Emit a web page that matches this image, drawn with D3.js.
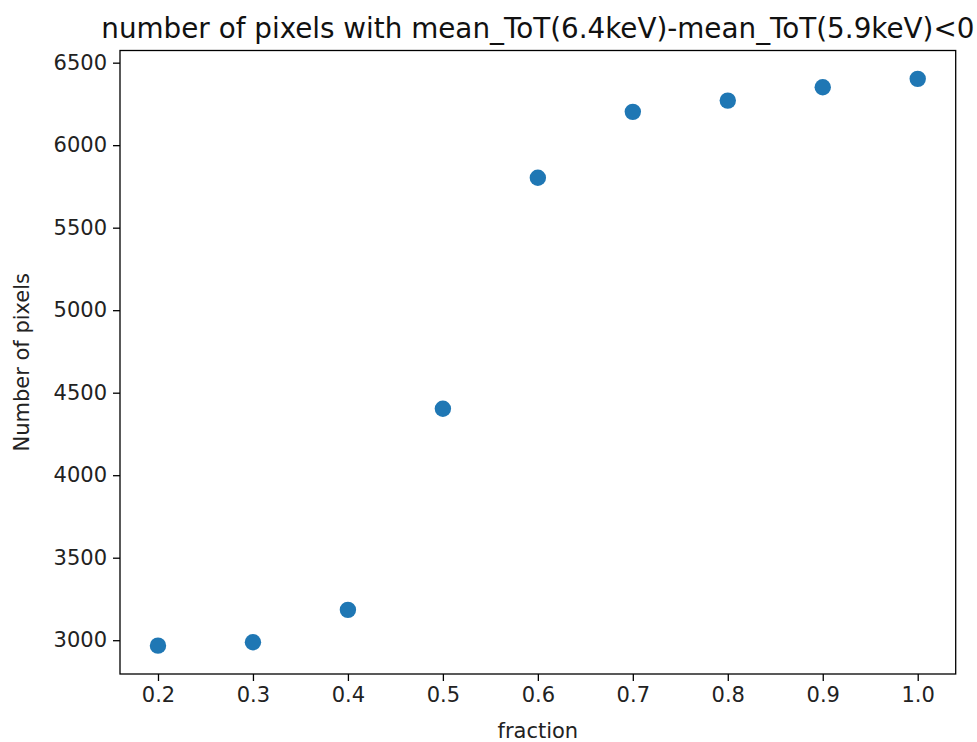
<!DOCTYPE html>
<html>
<head>
<meta charset="UTF-8">
<title>number of pixels</title>
<script src="https://d3js.org/d3.v7.min.js"></script>
<style>
body { margin: 0; background: #fff; font-family: "DejaVu Sans", sans-serif; }
.axis text { font-family: "DejaVu Sans", sans-serif; font-size: 21px; fill: #222; }
.axis path, .axis line { stroke: #000; stroke-width: 1.3; }
</style>
</head>
<body>
<div id="chart"></div>
<script>
// data
var fractions = [0.2, 0.3, 0.4, 0.5, 0.6, 0.7, 0.8, 0.9, 1.0];
var nPixels = [2967, 2988, 3184, 4403, 5803, 6202, 6270, 6351, 6402];
var xTicks = [0.2, 0.3, 0.4, 0.5, 0.6, 0.7, 0.8, 0.9, 1.0];
var yTicks = [3000, 3500, 4000, 4500, 5000, 5500, 6000, 6500];

var w = 977, h = 742;
var mLeft = 120, mRight = 955.7, mTop = 50.5, mBottom = 674;

var svg = d3.select("#chart").append("svg")
  .attr("width", w)
  .attr("height", h);

// matplotlib style 5% margins
var xPad = (d3.max(fractions) - d3.min(fractions)) * 0.05;
var yPad = (d3.max(nPixels) - d3.min(nPixels)) * 0.05;

var x = d3.scaleLinear()
  .domain([d3.min(fractions) - xPad, d3.max(fractions) + xPad])
  .range([mLeft, mRight]);
var y = d3.scaleLinear()
  .domain([d3.min(nPixels) - yPad, d3.max(nPixels) + yPad])
  .range([mBottom, mTop]);

// axes
svg.append("g")
  .attr("class", "axis")
  .attr("transform", "translate(0," + mBottom + ")")
  .call(d3.axisBottom(x).tickValues(xTicks).tickFormat(d3.format(".1f")).tickSizeInner(7).tickSizeOuter(0).tickPadding(6))
  .call(g => g.select(".domain").remove());

svg.append("g")
  .attr("class", "axis")
  .attr("transform", "translate(" + mLeft + ",0)")
  .call(d3.axisLeft(y).tickValues(yTicks).tickFormat(d3.format("d")).tickSizeInner(7).tickSizeOuter(0).tickPadding(6))
  .call(g => g.select(".domain").remove());

// frame
svg.append("rect")
  .attr("x", mLeft)
  .attr("y", mTop)
  .attr("width", mRight - mLeft)
  .attr("height", mBottom - mTop)
  .style("fill", "none")
  .style("stroke", "#000")
  .style("stroke-width", 1.3);

// points
svg.selectAll(".dot")
  .data(fractions)
  .enter()
  .append("circle")
  .attr("class", "dot")
  .attr("cx", d => x(d))
  .attr("cy", (d, i) => y(nPixels[i]))
  .attr("r", 8.2)
  .style("fill", "#1f77b4");

// title and labels
svg.append("text")
  .attr("x", (mLeft + mRight) / 2)
  .attr("y", 38)
  .attr("text-anchor", "middle")
  .style("font-size", "27.8px")
  .style("fill", "#111")
  .text("number of pixels with mean_ToT(6.4keV)-mean_ToT(5.9keV)<0");

svg.append("text")
  .attr("x", (mLeft + mRight) / 2)
  .attr("y", 738)
  .attr("text-anchor", "middle")
  .style("font-size", "21px")
  .style("fill", "#222")
  .text("fraction");

svg.append("text")
  .attr("transform", "translate(29," + (mTop + mBottom) / 2 + ") rotate(-90)")
  .attr("text-anchor", "middle")
  .style("font-size", "21px")
  .style("fill", "#222")
  .text("Number of pixels");
</script>
</body>
</html>
